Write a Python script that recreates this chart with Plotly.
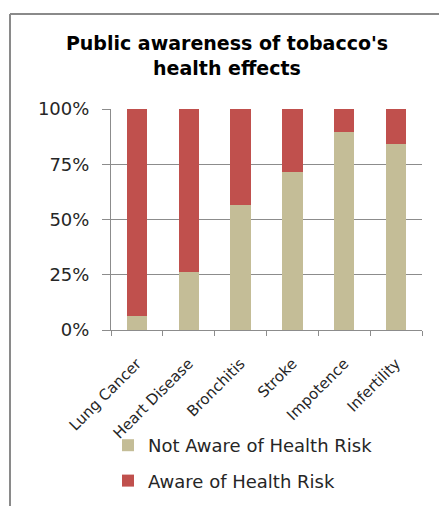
import plotly.graph_objects as go

categories = ["Lung Cancer", "Heart Disease", "Bronchitis", "Stroke", "Impotence", "Infertility"]
not_aware = [6.5, 26.2, 56.6, 71.3, 89.4, 84.3]
aware = [100 - v for v in not_aware]
series_names = ["Not Aware of Health Risk", "Aware of Health Risk"]
ytick_vals = [0, 25, 50, 75, 100]
ytick_text = ["0%", "25%", "50%", "75%", "100%"]

W, H = 439, 506
L, R, T, B = 111, 17, 109, 176
pw, ph = W - L - R, H - T - B

def px_x(p):
    return (p - L) / pw

def px_y(p):
    return (H - B - p) / ph

FONT = "DejaVu Sans"
TXT = "#262626"
FRAME = "#8a8a8a"

fig = go.Figure()
fig.add_trace(go.Bar(x=categories, y=not_aware, name=series_names[0],
                     marker=dict(color="#C4BD97", line=dict(width=0)),
                     legendgroup="a"))
fig.add_trace(go.Bar(x=categories, y=aware, name=series_names[1],
                     marker=dict(color="#C0504D", line=dict(width=0)),
                     legendgroup="b"))

fig.update_layout(
    width=W, height=H,
    margin=dict(l=L, r=R, t=T, b=B, autoexpand=False),
    barmode="stack",
    bargap=0.61,
    paper_bgcolor="white",
    plot_bgcolor="white",
    font=dict(family=FONT, size=18, color=TXT),
    title=dict(
        text="<b>Public awareness of tobacco's<br>health effects</b>",
        x=227 / W, xanchor="center",
        y=1 - 50 / H, yanchor="middle",
        font=dict(family=FONT, size=19, color="black"),
    ),
    showlegend=True,
    legend=dict(
        orientation="v",
        x=px_x(108), xanchor="left",
        y=px_y(427), yanchor="top",
        traceorder="grouped",
        tracegroupgap=9,
        font=dict(family=FONT, size=18, color=TXT),
        bgcolor="rgba(0,0,0,0)",
    ),
    xaxis=dict(
        tickangle=-45,
        showline=True, linecolor="#8c8c8c", linewidth=1,
        ticks="outside", ticklen=5, tickcolor="#8c8c8c",
        tickson="boundaries",
        showgrid=False,
        ticklabelstandoff=18,
        tickfont=dict(family=FONT, size=15, color=TXT),
    ),
    yaxis=dict(
        range=[0, 100],
        tickvals=ytick_vals, ticktext=ytick_text,
        showline=True, linecolor="#8c8c8c", linewidth=1,
        ticks="outside", ticklen=8, tickcolor="#8c8c8c",
        showgrid=True, gridcolor="#8c8c8c", gridwidth=1,
        zeroline=False,
        ticklabelstandoff=9,
        tickfont=dict(family=FONT, size=18, color=TXT),
    ),
    shapes=[
        dict(type="line", xref="paper", yref="paper",
             x0=px_x(10), x1=px_x(10), y0=px_y(14), y1=px_y(520),
             line=dict(color=FRAME, width=2), layer="below"),
        dict(type="line", xref="paper", yref="paper",
             x0=px_x(10), x1=px_x(450), y0=px_y(14), y1=px_y(14),
             line=dict(color=FRAME, width=2), layer="below"),
    ],
)

fig.write_html("out.html", config={"displayModeBar": False})
